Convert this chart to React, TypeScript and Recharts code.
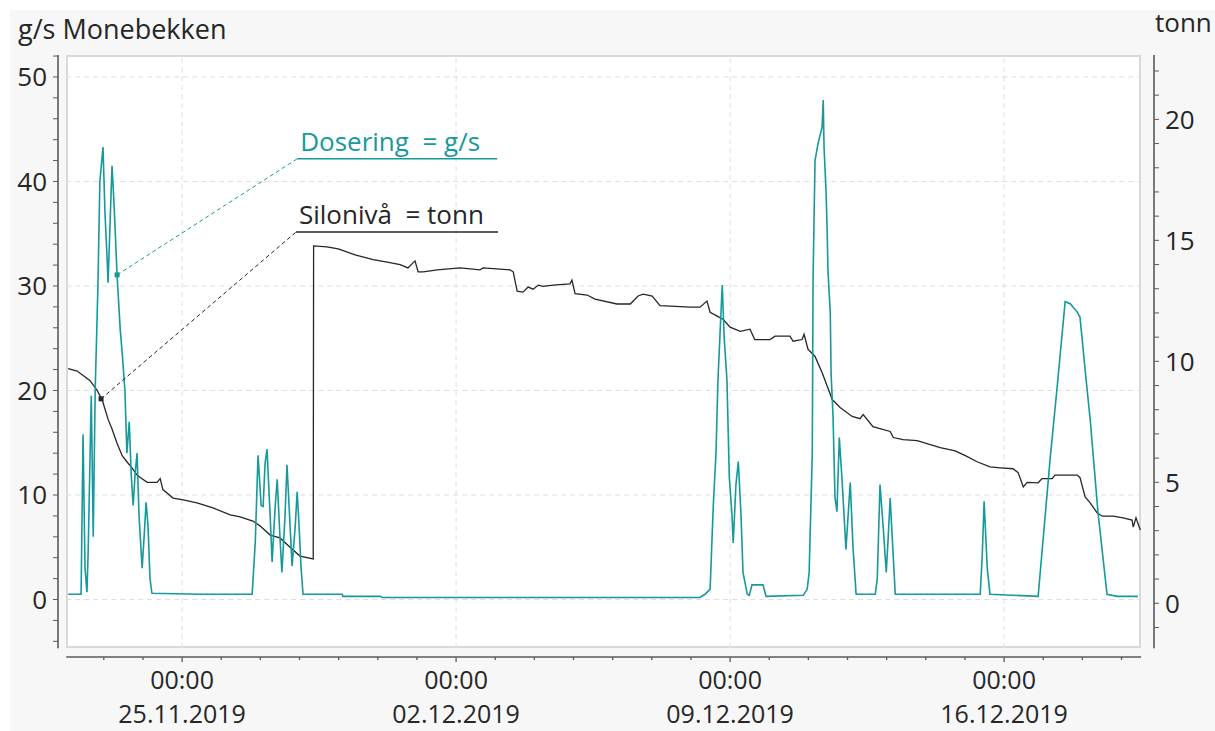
import React from 'react';
import { LineChart, Line, XAxis, YAxis, ReferenceLine, ReferenceDot } from 'recharts';

// time axis: days after 25.11.2019 00:00
const doseDays = [
  -2.91, -2.58, -2.53, -2.48, -2.43, -2.4, -2.32, -2.27, -2.22, -2.15, -2.1, -2.02, -1.97, -1.92, -1.89,
  -1.84, -1.79, -1.74, -1.66, -1.58, -1.53, -1.48, -1.46, -1.41, -1.35, -1.3, -1.25, -1.2, -1.15, -1.1,
  -1.02, -0.97, -0.92, -0.87, -0.82, -0.77, 0.46, 1.79, 1.87, 1.94, 2.02, 2.07, 2.12, 2.17, 2.25,
  2.3, 2.38, 2.43, 2.5, 2.55, 2.63, 2.68, 2.76, 2.81, 2.89, 2.94, 2.99, 3.04, 3.09, 4.09,
  4.11, 5.06, 5.11, 13.23, 13.36, 13.49, 13.57, 13.64, 13.69, 13.75, 13.8, 13.85, 13.92, 13.98, 14.05,
  14.08, 14.15, 14.21, 14.28, 14.33, 14.44, 14.49, 14.56, 14.84, 14.92, 15.87, 15.97, 16.02, 16.1, 16.12,
  16.17, 16.25, 16.35, 16.38, 16.4, 16.45, 16.48, 16.5, 16.56, 16.58, 16.63, 16.68, 16.73, 16.79, 16.86,
  16.96, 17.07, 17.14, 17.22, 17.71, 17.76, 17.83, 17.91, 17.99, 18.04, 18.09, 18.17, 18.22, 20.39, 20.44,
  20.49, 20.57, 20.64, 21.87, 22.18, 22.36, 22.56, 22.69, 22.87, 22.94, 23.07, 23.2, 23.4, 23.63, 23.89,
  24.42,
];
const doseGs = [
  0.5, 0.5, 15.8, 3, 0.7, 4.5, 19.5, 6, 20, 30, 40, 43.3, 37, 33, 30.3,
  36, 41.5, 38, 31, 25.8, 23.6, 21, 20, 14, 17, 12, 9, 12, 14, 8,
  3, 6, 9.3, 7, 2, 0.6, 0.5, 0.5, 5.5, 13.8, 9, 8.9, 13, 14.4, 8,
  3.6, 9, 11.5, 6, 2.6, 8, 12.9, 7, 3.2, 7, 10.3, 7, 3, 0.5, 0.5,
  0.3, 0.3, 0.2, 0.2, 0.5, 1, 8.9, 14, 21, 26, 30.1, 25, 21, 11.7, 8,
  5.4, 11, 13.2, 8, 2.6, 0.5, 0.4, 1.4, 1.4, 0.3, 0.4, 1, 2.6, 14, 30.6,
  42, 43.7, 45.2, 47.8, 43.3, 39.2, 35.3, 31.5, 27.4, 21.7, 17.5, 9.8, 8.4, 15.5, 11.5,
  4.8, 11.2, 5, 0.5, 0.5, 2, 11, 7, 2.6, 6, 9.7, 4, 0.5, 0.5, 4,
  9.4, 3, 0.5, 0.3, 13.6, 20.5, 28.5, 28.3, 27.5, 27, 22, 17.2, 8.3, 0.5, 0.3,
  0.3,
];

const siloDays = [
  -2.91, -2.68, -2.35, -2.17, -2.04, -1.89, -1.79, -1.66, -1.53, -1.41, -1.28, -1.15, -1.07, -0.89, -0.64,
  -0.56, -0.49, -0.23, 0.03, 0.38, 0.79, 1.23, 1.48, 1.81, 1.99, 2.25, 2.5, 2.76, 3.01, 3.35,
  3.36, 3.7, 3.99, 4.42, 4.88, 5.24, 5.57, 5.77, 5.95, 6.03, 6.16, 6.52, 7.1, 7.61, 7.69,
  8.38, 8.46, 8.56, 8.71, 8.84, 8.97, 9.1, 9.22, 9.48, 9.91, 9.96, 10.04, 10.35, 10.55, 11.11,
  11.45, 11.65, 11.78, 12.01, 12.21, 12.47, 12.98, 13.23, 13.41, 13.49, 13.67, 13.82, 14.0, 14.26, 14.51,
  14.63, 15.02, 15.15, 15.53, 15.61, 15.84, 15.89, 15.99, 16.17, 16.35, 16.61, 16.81, 17.12, 17.32, 17.4,
  17.65, 17.83, 18.09, 18.17, 18.42, 18.78, 19.03, 19.37, 19.75, 20.01, 20.31, 20.64, 20.9, 21.23, 21.36,
  21.49, 21.59, 21.87, 21.97, 22.23, 22.3, 22.87, 22.94, 23.07, 23.2, 23.38, 23.51, 23.79, 24.04, 24.27,
  24.3, 24.37, 24.48,
];
const siloTonn = [
  9.7, 9.6, 9.2, 8.8, 8.4, 7.6, 7.2, 6.6, 6.1, 5.85, 5.6, 5.3, 5.2, 5.0, 5.0,
  5.15, 4.7, 4.35, 4.27, 4.15, 3.94, 3.65, 3.57, 3.4, 3.2, 2.82, 2.7, 2.32, 1.95, 1.83,
  14.77, 14.73, 14.65, 14.4, 14.2, 14.1, 14.0, 13.86, 14.15, 13.7, 13.7, 13.78, 13.86, 13.78, 13.86,
  13.78, 13.7, 12.9, 12.86, 13.07, 12.98, 13.15, 13.1, 13.15, 13.2, 13.36, 12.8, 12.74, 12.57, 12.37,
  12.37, 12.7, 12.78, 12.7, 12.3, 12.28, 12.24, 12.24, 12.49, 12.03, 11.87, 11.74, 11.41, 11.24, 11.33,
  10.9, 10.9, 11.04, 11.04, 10.83, 10.9, 11.12, 10.5, 10.2, 9.54, 8.42, 8.09, 7.72, 7.63, 7.8,
  7.3, 7.22, 7.1, 6.85, 6.76, 6.72, 6.6, 6.43, 6.3, 6.1, 5.85, 5.64, 5.6, 5.56, 5.4,
  4.81, 5.0, 4.98, 5.15, 5.15, 5.3, 5.3, 5.19, 4.4, 4.15, 3.73, 3.6, 3.6, 3.53, 3.44,
  3.15, 3.53, 3.03,
];

const weekDays = [0, 7, 14, 21];
const weekTimes = ['00:00', '00:00', '00:00', '00:00'];
const weekDates = ['25.11.2019', '02.12.2019', '09.12.2019', '16.12.2019'];
const dayTicks = [-2, -1, 0, 1, 2, 3, 4, 5, 6, 7, 8, 9, 10, 11, 12, 13, 14, 15, 16, 17, 18, 19, 20, 21, 22, 23, 24];
const gsTicks = [-4, -2, 0, 2, 4, 6, 8, 10, 12, 14, 16, 18, 20, 22, 24, 26, 28, 30, 32, 34, 36, 38, 40, 42, 44, 46, 48, 50, 52];
const gsGrid = [0, 10, 20, 30, 40, 50];
const tonnTicks = [-1, 0, 1, 2, 3, 4, 5, 6, 7, 8, 9, 10, 11, 12, 13, 14, 15, 16, 17, 18, 19, 20, 21, 22];

const TEAL = '#16999a';
const INK = '#262626';
const AXIS = '#5a5a5a';
const GRID = '#dedede';
const FONT = '"Open Sans", "Noto Sans", sans-serif';

const doseData = doseDays.map((d, i) => ({ d, v: doseGs[i] }));
const siloData = siloDays.map((d, i) => ({ d, v: siloTonn[i] }));

// axis ranges and the white frame edges, in axis units
const xMin = -3.17;
const xMax = 24.83;
const gsMin = -5.5;
const gsMax = 52.1;
const frameLeft = -2.96;
const frameRight = 24.5;
const frameBottom = -4.66;

const XTick = (props: any) => {
  const { x, y, payload } = props;
  const i = weekDays.indexOf(payload.value);
  const major = i >= 0;
  return (
    <g>
      <line x1={x} x2={x} y1={y} y2={y + (major ? 5 : 3)} stroke={AXIS} strokeWidth={1.3} />
      {major && (
        <text textAnchor="middle" fill={INK} fontSize={25} fontFamily={FONT}>
          <tspan x={x} y={y + 32}>{weekTimes[i]}</tspan>
          <tspan x={x} y={y + 66}>{weekDates[i]}</tspan>
        </text>
      )}
    </g>
  );
};

const square = (color: string) => (p: any) =>
  <rect x={p.cx - 2.5} y={p.cy - 2.5} width={5} height={5} fill={color} />;

const caption = (text: string, color: string) => (p: any) =>
  <text x={p.cx + 3} y={p.cy - 8} fill={color} fontSize={26} fontFamily={FONT} style={{ whiteSpace: 'pre' }}>{text}</text>;

export default function App() {
  return (
    <div style={{ position: 'absolute', left: 10, top: 10, width: 1205, height: 721, background: '#f7f7f7', fontFamily: FONT }}>
      <div style={{ position: 'absolute', left: 56, top: 45, width: 1075, height: 593, background: '#fff', border: '2px solid #d9d9d9', boxSizing: 'border-box' }} />
      <div style={{ position: 'absolute', left: 8, top: 6, fontSize: 27, lineHeight: '26px', color: INK, whiteSpace: 'nowrap' }}>g/s Monebekken</div>
      <div style={{ position: 'absolute', left: 1145, top: -1, fontSize: 26, lineHeight: '26px', color: INK }}>tonn</div>
      <div style={{ position: 'absolute', left: 0, top: 0 }}>
        <LineChart width={1205} height={721} margin={{ top: 45, right: 10, bottom: 0, left: 8 }}>
          <XAxis
            type="number"
            dataKey="d"
            domain={[xMin, xMax]}
            allowDataOverflow
            ticks={dayTicks}
            interval={0}
            height={74}
            tickSize={0}
            tickMargin={0}
            tickLine={false}
            axisLine={false}
            tick={<XTick />}
          />
          <YAxis
            yAxisId="left"
            width={40}
            domain={[gsMin, gsMax]}
            allowDataOverflow
            ticks={gsTicks}
            interval={0}
            tickFormatter={(v: number) => (v % 10 === 0 ? String(v) : '')}
            tickSize={5}
            tickMargin={6}
            axisLine={false}
            tickLine={{ stroke: AXIS }}
            tick={{ fontSize: 26, fill: INK, fontFamily: FONT }}
          />
          <YAxis
            yAxisId="right"
            orientation="right"
            width={51}
            domain={[-2.22, 22.66]}
            allowDataOverflow
            ticks={tonnTicks}
            interval={0}
            tickFormatter={(v: number) => (v % 5 === 0 ? String(v) : '')}
            tickSize={5}
            tickMargin={6}
            axisLine={false}
            tickLine={{ stroke: AXIS }}
            tick={{ fontSize: 26, fill: INK, fontFamily: FONT }}
          />

          {gsGrid.map(v => (
            <ReferenceLine key={'h' + v} yAxisId="left" segment={[{ x: frameLeft, y: v }, { x: frameRight, y: v }]}
              stroke={GRID} strokeDasharray="5 4" />
          ))}
          {weekDays.map(d => (
            <ReferenceLine key={'v' + d} yAxisId="left" segment={[{ x: d, y: frameBottom }, { x: d, y: gsMax }]}
              stroke={GRID} strokeDasharray="5 4" />
          ))}

          {/* detached axis lines */}
          <ReferenceLine yAxisId="left" segment={[{ x: frameLeft, y: gsMin }, { x: frameRight, y: gsMin }]} stroke={AXIS} strokeWidth={1.6} />
          <ReferenceLine yAxisId="left" segment={[{ x: xMin, y: frameBottom }, { x: xMin, y: gsMax }]} stroke={AXIS} strokeWidth={1.6} />
          <ReferenceLine yAxisId="left" segment={[{ x: xMax, y: frameBottom }, { x: xMax, y: gsMax }]} stroke={AXIS} strokeWidth={1.6} />

          <Line yAxisId="right" data={siloData} dataKey="v" type="linear" stroke={INK} strokeWidth={1.3} dot={false} isAnimationActive={false} />
          <Line yAxisId="left" data={doseData} dataKey="v" type="linear" stroke={TEAL} strokeWidth={1.6} dot={false} isAnimationActive={false} />

          {/* Dosering callout */}
          <ReferenceLine yAxisId="left" segment={[{ x: -1.66, y: 31.06 }, { x: 2.94, y: 42.17 }]} stroke={TEAL} strokeDasharray="4 3" />
          <ReferenceLine yAxisId="left" segment={[{ x: 2.94, y: 42.17 }, { x: 8.05, y: 42.17 }]} stroke={TEAL} strokeWidth={1.5} />
          <ReferenceDot yAxisId="left" x={-1.66} y={31.06} r={3} shape={square(TEAL)} />
          <ReferenceDot yAxisId="left" x={2.94} y={42.17} r={1} shape={caption('Dosering\u00a0\u00a0= g/s', TEAL)} />

          {/* Silonivå callout */}
          <ReferenceLine yAxisId="right" segment={[{ x: -2.07, y: 8.45 }, { x: 2.91, y: 15.34 }]} stroke={INK} strokeDasharray="4 3" />
          <ReferenceLine yAxisId="right" segment={[{ x: 2.91, y: 15.34 }, { x: 8.07, y: 15.34 }]} stroke={INK} strokeWidth={1.5} />
          <ReferenceDot yAxisId="right" x={-2.07} y={8.45} r={3} shape={square(INK)} />
          <ReferenceDot yAxisId="right" x={2.91} y={15.34} r={1} shape={caption('Silonivå\u00a0\u00a0= tonn', INK)} />
        </LineChart>
      </div>
    </div>
  );
}
